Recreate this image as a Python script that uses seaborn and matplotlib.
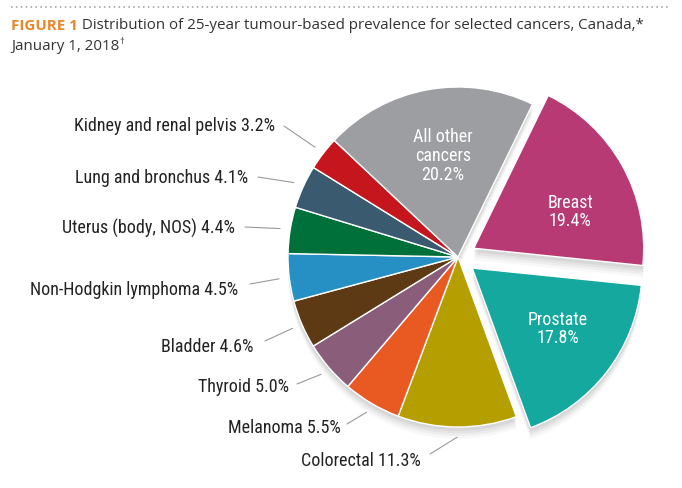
import numpy as np
import matplotlib
matplotlib.use("Agg")
import matplotlib.pyplot as plt
import matplotlib.patches as mpatches
from matplotlib.lines import Line2D
from matplotlib import font_manager as fm
import seaborn as sns

# ---- data ----
categories = ["Breast", "Prostate", "Colorectal", "Melanoma", "Thyroid", "Bladder",
              "Non-Hodgkin lymphoma", "Uterus (body, NOS)", "Lung and bronchus",
              "Kidney and renal pelvis", "All other cancers"]
values = [19.4, 17.8, 11.3, 5.5, 5.0, 4.6, 4.5, 4.4, 4.1, 3.2, 20.2]
colors = ["#B83A75", "#14A89E", "#B49E00", "#E85A22", "#8A5E7A", "#5E3A14",
          "#2690C4", "#00703A", "#3A5A70", "#C4161C", "#9D9EA2"]
explode_flags = [1, 1, 0, 0, 0, 0, 0, 0, 0, 0, 0]

sns.set_theme(style="white")
names = {f.name for f in fm.fontManager.ttflist}
fam = "DejaVu Sans"
for cand in ["Roboto Condensed", "Liberation Sans Narrow", "Open Sans Condensed", "Noto Sans Condensed"]:
    if cand in names:
        fam = cand
        break
title_fam = "Open Sans" if "Open Sans" in names else "DejaVu Sans"
plt.rcParams["font.family"] = [fam, "DejaVu Sans"]

fig = plt.figure(figsize=(6.82, 4.89), dpi=100)
ax = fig.add_axes([0, 0, 1, 1])

W, H = 682, 489
cx, cy, R = 458, 258, 170
ex = 18 / R

wedges, _ = ax.pie(values, colors=colors, startangle=64, counterclock=False,
                   explode=[e * ex for e in explode_flags],
                   wedgeprops=dict(edgecolor="white", linewidth=1.0))

# soft shadow
for w in wedges:
    for ox, oy, a in [(0.0, -0.05, 0.05), (0.0, -0.038, 0.07), (0.0, -0.027, 0.09), (0.0, -0.016, 0.11)]:
        s = mpatches.Shadow(w, ox, oy, facecolor="#777777", edgecolor="none", alpha=a)
        s.set_zorder(w.get_zorder() - 0.1)
        ax.add_patch(s)

ax.set_xlim(-cx / R, (W - cx) / R)
ax.set_ylim((cy - H) / R, cy / R)
ax.set_aspect("equal", adjustable="datalim")
ax.axis("off")

def px(x, y):
    return ((x - cx) / R, (cy - y) / R)

# inner labels
inner_pos = {0: (570, 212), 1: (558, 329), 10: (443, 156)}
inner_text = {0: "Breast\n19.4%", 1: "Prostate\n17.8%", 10: "All other\ncancers\n20.2%"}
for i, (x, y) in inner_pos.items():
    ax.text(*px(x, y), inner_text[i], ha="center", va="center", color="white",
            fontsize=13, linespacing=1.05)

# outer labels with leader lines
text_pos = {2: (421, 461), 3: (341, 428), 4: (289, 387), 5: (253, 347),
            6: (238, 290), 7: (235, 228), 8: (248, 178), 9: (275, 126)}
line_out = {2: (430, 455), 3: (347, 425), 4: (297, 385), 5: (265, 342),
            6: (250, 285), 7: (245, 228), 8: (258, 178), 9: (284, 127)}
for i, (x, y) in text_pos.items():
    w = wedges[i]
    th = np.deg2rad((w.theta1 + w.theta2) / 2)
    r_in = 1.06
    xi, yi = r_in * np.cos(th), r_in * np.sin(th)
    xo, yo = px(*line_out[i])
    ax.add_line(Line2D([xo, xi], [yo, yi], color="#9a9a9a", lw=0.8))
    ax.text(*px(x, y), f"{categories[i]} {values[i]:.1f}%", ha="right", va="center",
            color="#222222", fontsize=13)

# dotted rule
fig.add_artist(Line2D([11 / W, 671 / W], [1 - 8 / H, 1 - 8 / H], transform=fig.transFigure,
                      color="#9a9a9a", lw=1.1, linestyle=(0, (1, 2.2))))

# title
tfs = 11.2
t1 = fig.text(11 / W, 1 - 33 / H, "FIGURE 1", color="#E8872A", fontsize=tfs, fontweight="bold",
              family=[title_fam, "DejaVu Sans"], ha="left", va="bottom")
t2 = ax.annotate(" Distribution of 25-year tumour-based prevalence for selected cancers, Canada,*",
                 xy=(1, 0), xycoords=t1, ha="left", va="bottom", fontsize=tfs, color="#333333",
                 family=[title_fam, "DejaVu Sans"], annotation_clip=False)
t3 = fig.text(11 / W, 1 - 54 / H, "January 1, 2018", color="#333333", fontsize=tfs,
              family=[title_fam, "DejaVu Sans"], ha="left", va="bottom")
t4 = ax.annotate("†", xy=(1, 0.5), xycoords=t3, ha="left", va="bottom", fontsize=7,
                 color="#333333", family=[title_fam, "DejaVu Sans"], annotation_clip=False)

# fit the title width to the reference (ends near x=642 px)
r = fig.canvas.get_renderer()
right = t2.get_window_extent(r).x1
scale = (642 - 11) / (right - 11)
for t in (t1, t2, t3):
    t.set_fontsize(tfs * scale)
t4.set_fontsize(7 * scale)

fig.savefig("out.png", dpi=100)
